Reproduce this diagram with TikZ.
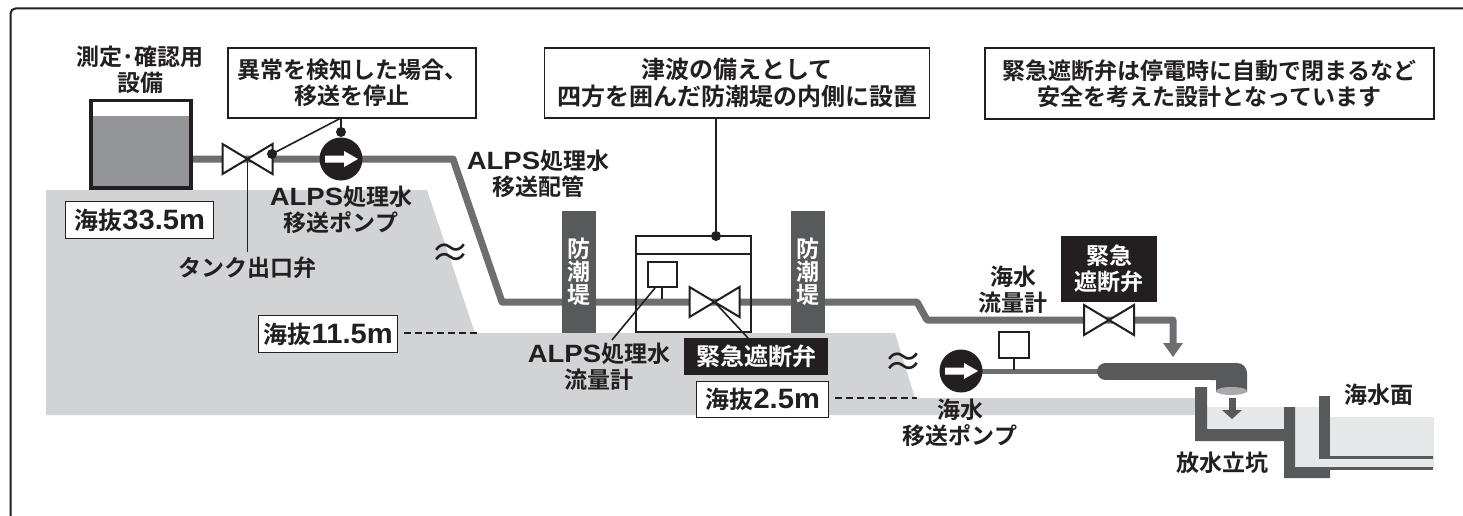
\documentclass[tikz,border=0pt]{standalone}
\usepackage{fontspec}
\setmainfont{Noto Sans CJK JP Bold}
\newfontfamily\latfamA[FakeStretch=1.1]{Liberation Sans Bold}
\newfontfamily\latfamB[FakeStretch=1.04]{Liberation Sans Bold}
\newfontfamily\thinfam{Noto Sans CJK JP}
\newcommand{\alps}{{\latfamA\fontsize{25}{26}\selectfont ALPS}}
\newcommand{\lev}[1]{{\latfamB\fontsize{28}{28}\selectfont #1}}
\definecolor{pipe}{HTML}{6D6E71}
\definecolor{wall}{HTML}{58595B}
\definecolor{land}{HTML}{D1D3D4}
\definecolor{sea}{HTML}{E6E7E8}
\definecolor{ink}{HTML}{231F20}
\definecolor{tankfill}{HTML}{939598}
\definecolor{mouth}{HTML}{A7A9AC}
\tikzset{
  txt/.style={text=ink,font=\fontsize{23}{26}\selectfont,align=center,inner sep=0pt},
  level/.style={draw=ink,line width=1.4pt,fill=white,text=ink,font=\fontsize{24}{28}\selectfont,inner sep=0pt,anchor=north west},
  note/.style={draw=ink,line width=1.8pt,fill=white,text=ink,font=\fontsize{23}{26}\selectfont,align=center,inner sep=0pt},
  blackbox/.style={fill=ink,text=white,font=\fontsize{24}{26}\selectfont,align=center,inner sep=0pt},
  pipeline/.style={draw=pipe,line width=7pt,line join=round},
  leader/.style={draw=ink,line width=1.6pt},
  levdash/.style={draw=ink,line width=1.8pt,dash pattern=on 7pt off 4pt},
  dotn/.style={circle,fill=ink,inner sep=0pt,minimum size=10pt},
  pumpn/.style={circle,fill=ink,inner sep=0pt,minimum size=43pt},
  walltxt/.style={text=white,font=\fontsize{23}{24}\selectfont,align=center,inner sep=0pt},
  valvestyle/.style={draw=ink,line width=2pt,fill=white,line join=miter},
  meter/.style={draw=ink,line width=2pt,fill=white,inner sep=0pt},
  approx/.style={text=ink,inner sep=0pt,font=\thinfam\fontsize{40}{40}\selectfont},
}
\newcommand{\valveat}[3]{% centre x, y, half-width
  \path[valvestyle] (#1-#3,#2-15) -- (#1+#3,#2+15) -- (#1+#3,#2-15) -- (#1-#3,#2+15) -- cycle;}
\newcommand{\pumparrow}[2]{%
  \fill[white] (#1-16,#2-3.5) -- (#1+3,#2-3.5) -- (#1+3,#2-8) -- (#1+17,#2) -- (#1+3,#2+8) -- (#1+3,#2+3.5) -- (#1-16,#2+3.5) -- cycle;}
\begin{document}
\begin{tikzpicture}[x=1pt,y=-1pt]
\useasboundingbox (0,0) rectangle (1463,516);
\fill[white] (0,0) rectangle (1463,516);
% frame
\draw[ink,line width=2pt,rounded corners=5pt] (10.5,530) -- (10.5,8.5) -- (1470,8.5);
% land
\fill[land] (46,190) -- (427,190) -- (475,333) -- (895,333) -- (915,398) -- (1195,398) -- (1195,415) -- (46,415) -- cycle;
% sea
\fill[sea] (1207,407) rectangle (1284,429);
\fill[sea] (1295,407) rectangle (1319,467);
\fill[sea] (1330,417) rectangle (1434,457);
\fill[sea] (1319,457) rectangle (1434,468);
% discharge shaft
\fill[wall] (1195,387) -- (1207,387) -- (1207,429) -- (1284,429) -- (1284,407) -- (1295,407) -- (1295,467) -- (1330,467) -- (1330,478) -- (1284,478) -- (1284,441) -- (1195,441) -- cycle;
\fill[wall] (1319,396) rectangle (1330,458);
\fill[wall] (1319,456) rectangle (1433,459);
\fill[wall] (1330,467) rectangle (1433,470);
% main pipe
\path[pipeline] (192,159) -- (453,159) -- (502,302) -- (917,302) -- (927,320) -- (1173,320) -- (1173,345);
\fill[pipe] (1163,343) -- (1183,343) -- (1173,357) -- cycle;
% sea-water pipe
\draw[pipe,line width=5pt] (960,371) -- (1105,371);
\fill[wall] (1105.5,371.5) circle (8.5);
\fill[wall] (1105.5,363) rectangle (1217,380);
\fill[wall] (1210,363) [rounded corners=10pt] -- (1247,363) [sharp corners] -- (1247,392) -- (1216,392) -- (1216,380) -- (1210,380) -- cycle;
\fill[mouth] (1231.5,391) ellipse (15.5 and 4);
\fill[wall] (1228.5,398) rectangle (1235.5,411);
\fill[wall] (1222,410) -- (1242,410) -- (1232,419) -- cycle;
% tank
\fill[tankfill] (92,116) rectangle (189,186);
\draw[ink,line width=3.5pt] (91,100.5) rectangle (191,188);
% sea walls
\fill[wall] (562,211) rectangle (596,333);
\fill[wall] (791,211) rectangle (825,333);
\node[walltxt] (w1) at (579,272) {防\\[-1pt]潮\\[-1pt]堤};
\node[walltxt] (w2) at (808,272) {防\\[-1pt]潮\\[-1pt]堤};
% building
\draw[ink,line width=1.7pt] (636,236) rectangle (751,332);
\draw[ink,line width=1.7pt] (636,254) -- (751,254);
% labels/boxes
\node[note,minimum width=248pt,minimum height=70pt] (n1) at (352,83) {異常を検知した場合、\\移送を停止};
\node[note,minimum width=385pt,minimum height=70pt,font=\fontsize{24}{27}\selectfont] (n2) at (737,83) {津波の備えとして\\四方を囲んだ防潮堤の内側に設置};
\node[note,minimum width=449pt,minimum height=71pt] (n3) at (1209.5,83.5) {緊急遮断弁は停電時に自動で閉まるなど\\安全を考えた設計となっています};
\node[txt] (t1) at (140,70) {測定･確認用\\設備};
% valves
\valveat{247.5}{159}{25}
\valveat{714.5}{302}{25}
\valveat{1109}{320}{25}
% pumps
\node[pumpn] (p1) at (341,159) {};
\pumparrow{341}{159}
\node[pumpn] (p2) at (961,371) {};
\pumparrow{961}{371}
% dots & leaders
\coordinate (v1) at (247.5,159);
\node[dotn] (d1) at (272,154) {};
\node[dotn] (d2) at (341,132) {};
\node[dotn] (d3) at (716,236) {};
\coordinate (n1a) at (341,118);
\draw[leader] (d1.center) -- (n1a);
\draw[leader] (d2.center) -- (n1a);
\draw[leader] (d3.center) -- (716,118);
\draw[leader] (v1) -- (247.5,252);
% meters
\node[meter,minimum width=29pt,minimum height=25pt] (m1) at (662,274.5) {};
\draw[ink,line width=1.5pt] (662,287) -- (662,299);
\draw[leader] (655,288) -- (612,340);
\draw[leader] (714.5,302) -- (748,338);
\node[meter,minimum width=30pt,minimum height=26pt] (m2) at (1014,345) {};
\draw[ink,line width=1.5pt] (1014,358) -- (1014,370);
% level boxes
\node[level,minimum width=148pt,minimum height=37pt] (l1) at (65,201) {海抜\lev{33.5m}};
\node[level,minimum width=139pt,minimum height=37pt] (l2) at (258,315) {海抜\lev{11.5m}};
\node[level,minimum width=132pt,minimum height=36pt] (l3) at (696,381) {海抜\lev{2.5m}};
\coordinate (l2e) at (477,333);
\coordinate (l3e) at (917,398);
\draw[levdash] (404,333) -- (l2e);
\draw[levdash] (835,398) -- (l3e);
% black labels
\node[blackbox,minimum width=144pt,minimum height=37pt] (b1) at (756,356.5) {緊急遮断弁};
\node[blackbox,minimum width=96pt,minimum height=66pt,font=\fontsize{23}{26}\selectfont] (b2) at (1109,269) {緊急\\遮断弁};
% text
\node[txt] (t2) at (247,268) {タンク出口弁};
\node[txt] (t3) at (341,210) {\alps 処理水\\移送ポンプ};
\node[txt] (t4) at (538,174) {\alps 処理水\\移送配管};
\node[txt] (t5) at (599,366.5) {\alps 処理水\\流量計};
\node[txt] (t6) at (1013,290) {海水\\流量計};
\node[txt] (t7) at (960,423) {海水\\移送ポンプ};
\node[txt] (t8) at (1222,463) {放水立坑};
\node[txt] (t9) at (1379,395) {海水面};
\node[approx] (a1) at (450,256) {≈};
\node[approx] (a2) at (903,365) {≈};
\end{tikzpicture}
\end{document}
